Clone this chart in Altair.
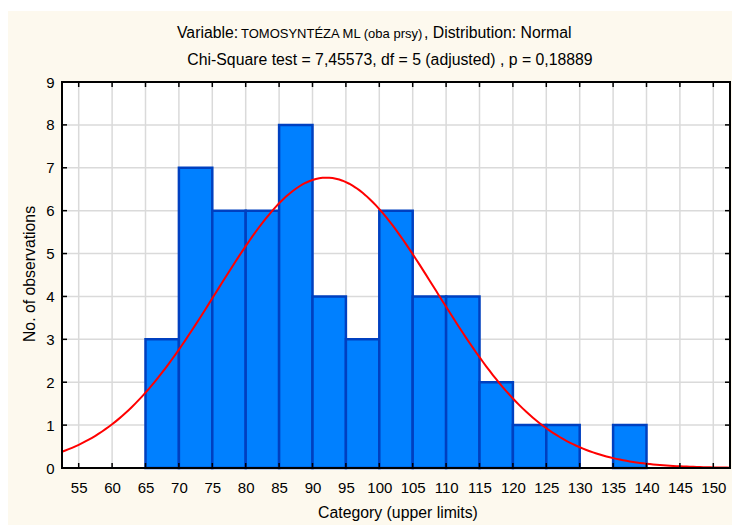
import altair as alt
import pandas as pd
import numpy as np

# ---- data ----
upper_limits = [70, 75, 80, 85, 90, 95, 100, 105, 110, 115, 120, 125, 130, 135, 140]
counts = [3, 7, 6, 6, 8, 4, 3, 6, 4, 4, 2, 1, 1, 0, 1]
bin_width = 5
x_ticks = list(range(55, 151, 5))
y_ticks = list(range(0, 10))
y_grid = list(range(1, 9))
fit_mean = 92.1
fit_sd = 16.5
n_obs = sum(counts)

title_1a = "Variable:"
title_1b = "TOMOSYNTÉZA ML (oba prsy)"
title_1c = ", Distribution: Normal"
title_2 = "Chi-Square test = 7,45573, df = 5 (adjusted) , p = 0,18889"
x_title = "Category (upper limits)"
y_title = "No. of observations"

# ---- tables ----
bars = pd.DataFrame({
    "lo": [u - bin_width for u in upper_limits],
    "hi": upper_limits,
    "count": counts,
})
bars = bars[bars["count"] > 0]

xs_curve = np.arange(52.5, 152.51, 0.5)
curve = pd.DataFrame({
    "x": xs_curve,
    "y": n_obs * bin_width / (fit_sd * np.sqrt(2 * np.pi))
    * np.exp(-0.5 * ((xs_curve - fit_mean) / fit_sd) ** 2),
})
xt = pd.DataFrame({"v": x_ticks})
yt = pd.DataFrame({"v": y_ticks})
yg = pd.DataFrame({"v": y_grid})
one = pd.DataFrame({"a": [0]})

W, H = 668, 386
FONT = "Liberation Sans"
CREAM = "#FDF9EE"
GRID = "#DADADA"

xs = alt.Scale(domain=[52.5, 152.5], nice=False, zero=False)
ys = alt.Scale(domain=[0, 9], nice=False, zero=False)
ax_x = alt.Axis(values=x_ticks, title=None, domain=False, ticks=False, tickSize=0,
                grid=False, labelFont=FONT, labelFontSize=15, labelColor="black",
                labelPadding=12, labelOverlap=False, labelFlush=False, zindex=2)
ax_y = alt.Axis(values=y_ticks, title=None, domain=False, ticks=False, tickSize=0,
                grid=False, labelFont=FONT, labelFontSize=15, labelColor="black",
                labelPadding=8, labelOverlap=False, zindex=2)

bg = alt.Chart(one).mark_rect(color=CREAM).encode(
    x=alt.value(-54), x2=alt.value(670), y=alt.value(-71), y2=alt.value(443))
plotbg = alt.Chart(one).mark_rect(color="white").encode(
    x=alt.value(0), x2=alt.value(W), y=alt.value(0), y2=alt.value(H))

vgrid = alt.Chart(xt).mark_rule(color=GRID, strokeWidth=1.5).encode(
    x=alt.X("v:Q", scale=xs, axis=ax_x))
hgrid = alt.Chart(yg).mark_rule(color=GRID, strokeWidth=1.5).encode(
    y=alt.Y("v:Q", scale=ys, axis=ax_y))

bar_layer = alt.Chart(bars).mark_rect(
    fill="#0080FF", stroke="#0040C0", strokeWidth=2.5).encode(
    x=alt.X("lo:Q", scale=xs, axis=ax_x),
    x2="hi:Q",
    y=alt.Y("count:Q", scale=ys, axis=ax_y),
    y2=alt.datum(0))

curve_layer = alt.Chart(curve).mark_line(color="#FF0000", strokeWidth=2).encode(
    x=alt.X("x:Q", scale=xs, axis=ax_x),
    y=alt.Y("y:Q", scale=ys, axis=ax_y))

tick_b = alt.Chart(xt).mark_rule(color="black", strokeWidth=1.5).encode(
    x=alt.X("v:Q", scale=xs, axis=ax_x), y=alt.value(H), y2=alt.value(H - 5))
tick_t = alt.Chart(xt).mark_rule(color="black", strokeWidth=1.5).encode(
    x=alt.X("v:Q", scale=xs, axis=ax_x), y=alt.value(0), y2=alt.value(5))
tick_l = alt.Chart(yt).mark_rule(color="black", strokeWidth=1.5).encode(
    y=alt.Y("v:Q", scale=ys, axis=ax_y), x=alt.value(0), x2=alt.value(5))
tick_r = alt.Chart(yt).mark_rule(color="black", strokeWidth=1.5).encode(
    y=alt.Y("v:Q", scale=ys, axis=ax_y), x=alt.value(W), x2=alt.value(W - 5))

frame = alt.Chart(one).mark_rect(filled=False, stroke="black", strokeWidth=2).encode(
    x=alt.value(0), x2=alt.value(W), y=alt.value(0), y2=alt.value(H))

def txt(s, x, y, size=15.8, align="left", angle=0):
    kw = dict(text=s, font=FONT, fontSize=size, color="black",
              align=align, baseline="alphabetic")
    if angle:
        kw["angle"] = angle
    return alt.Chart(one).mark_text(**kw).encode(x=alt.value(x), y=alt.value(y))

t1a = txt(title_1a, 115, -44)
t1b = txt(title_1b, 179, -44, size=13)
t1c = txt(title_1c, 362, -44)
t2 = txt(title_2, 328, -17, align="center")
tx = txt(x_title, 336, 436, align="center")
ty = txt(y_title, -27, 192, align="center", angle=270)

chart = alt.layer(
    bg, plotbg, vgrid, hgrid, bar_layer, curve_layer,
    tick_b, tick_t, tick_l, tick_r, frame,
    t1a, t1b, t1c, t2, tx, ty,
).properties(
    width=W, height=H,
    autosize=alt.AutoSizeParams(type="none"),
    padding={"left": 62, "top": 82, "right": 2, "bottom": 57},
    background="white",
).configure_view(stroke=None)

chart.save("out.html", embed_options={"renderer": "svg", "actions": False})
